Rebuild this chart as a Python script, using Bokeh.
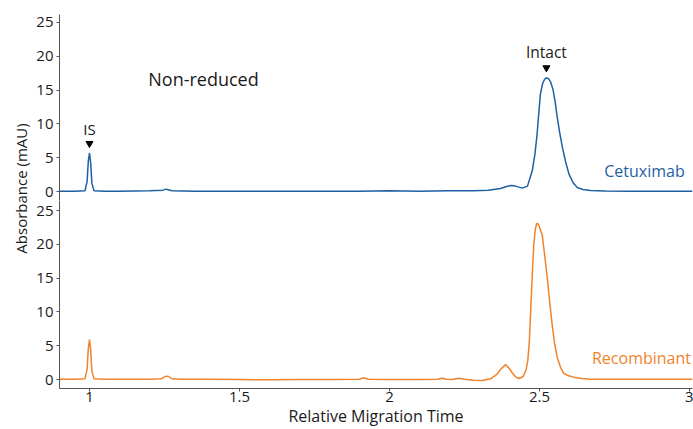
from bokeh.plotting import figure
from bokeh.layouts import row, column
from bokeh.models import Range1d, Label, FixedTicker
from bokeh.core.properties import value
from bokeh.embed import file_html
from bokeh.resources import INLINE
import math

# ---------------- data ----------------
cetux_t = [0.90, 0.95, 0.985, 0.992, 0.996, 1.000, 1.004, 1.008, 1.015, 1.05, 1.10, 1.20,
           1.245, 1.255, 1.262, 1.275, 1.35, 1.5, 1.7, 1.9, 2.0, 2.1, 2.2, 2.28, 2.33, 2.37,
           2.39, 2.405, 2.42, 2.443, 2.46, 2.476, 2.485, 2.492, 2.498, 2.503, 2.51, 2.517,
           2.523, 2.530, 2.537, 2.545, 2.552, 2.559, 2.567, 2.576, 2.587, 2.598, 2.612, 2.626,
           2.645, 2.67, 2.72, 2.8, 2.9, 3.01]
cetux_v = [0.05, 0.05, 0.1, 1.5, 4.5, 5.7, 4.2, 1.2, 0.1, 0.05, 0.05, 0.1,
           0.2, 0.35, 0.25, 0.1, 0.05, 0.05, 0.05, 0.05, 0.1, 0.05, 0.1, 0.1, 0.2, 0.45,
           0.75, 0.9, 0.8, 0.5, 0.8, 3.1, 5.6, 8.5, 11.8, 14.4, 15.9, 16.6,
           16.8, 16.7, 16.2, 15.1, 13.3, 11.0, 8.8, 6.6, 4.4, 2.6, 1.3, 0.6,
           0.3, 0.15, 0.08, 0.05, 0.05, 0.05]

recomb_t = [0.90, 0.95, 0.985, 0.992, 0.996, 1.000, 1.004, 1.008, 1.015, 1.05, 1.10, 1.20,
            1.24, 1.248, 1.256, 1.264, 1.272, 1.30, 1.4, 1.5, 1.6, 1.7, 1.8, 1.9, 1.913, 1.93,
            2.0, 2.1, 2.16, 2.175, 2.19, 2.21, 2.23, 2.25, 2.28, 2.31, 2.337, 2.359, 2.372,
            2.387, 2.398, 2.409, 2.42, 2.431, 2.445, 2.455, 2.461, 2.466, 2.472, 2.477, 2.481,
            2.486, 2.490, 2.494, 2.499, 2.504, 2.509, 2.517, 2.526, 2.534, 2.542, 2.550, 2.559,
            2.570, 2.581, 2.597, 2.614, 2.64, 2.67, 2.75, 2.85, 3.01]
recomb_v = [0.05, 0.05, 0.1, 1.5, 4.6, 5.9, 4.3, 1.2, 0.1, 0.05, 0.05, 0.05,
            0.1, 0.35, 0.5, 0.45, 0.15, 0.05, 0.05, 0.0, -0.05, 0.0, 0.0, 0.05, 0.25, 0.05,
            0.0, 0.0, 0.05, 0.2, 0.05, 0.0, 0.2, 0.05, -0.1, -0.15, 0.1, 0.8, 1.6,
            2.2, 1.7, 1.0, 0.4, 0.15, 0.4, 1.4, 2.8, 5.5, 11.6, 16.5, 20.0,
            22.2, 23.0, 23.1, 22.7, 22.0, 21.4, 18.5, 15.0, 11.5, 8.2, 5.4, 3.3,
            1.8, 0.9, 0.55, 0.35, 0.15, 0.05, 0.05, 0.05, 0.05]

y_ticks = [0, 5, 10, 15, 20, 25]
x_ticks = [1, 1.5, 2, 2.5, 3]
x_tick_labels = {1: "1", 1.5: "1.5", 2: "2", 2.5: "2.5", 3: "3"}

# annotation positions (data units)
is_pos = (1.0, 9.3, 7.1)
intact_pos = (2.523, 20.7, 18.3)
title_pos = (1.38, 16.7)
cetux_label_pos = (2.85, 3.0)
recomb_label_pos = (2.84, 3.25)

BLUE = "#1f5fa3"
ORANGE = "#f0832a"
FONT = "Open Sans"
AXIS_COLOR = "#555555"
TEXT_COLOR = "#1a1a1a"

x_range = Range1d(0.9, 3.01)


def style_y(p):
    ax = p.yaxis[0]
    ax.ticker = FixedTicker(ticks=y_ticks)
    ax.minor_tick_line_color = None
    ax.major_tick_out = 3
    ax.major_tick_in = 0
    ax.axis_line_color = AXIS_COLOR
    ax.major_tick_line_color = AXIS_COLOR
    ax.major_label_text_font = FONT
    ax.major_label_text_font_size = "15px"
    ax.major_label_text_color = TEXT_COLOR
    ax.major_label_standoff = 3


# ---------------- top panel ----------------
top = figure(width=663, height=200, x_range=x_range, y_range=Range1d(-1.33, 26.18),
             output_backend="svg", toolbar_location=None, x_axis_location=None,
             min_border_left=29, min_border_right=1, min_border_top=14, min_border_bottom=0)
top.outline_line_color = None
top.grid.grid_line_color = None
style_y(top)
top.line(cetux_t, cetux_v, line_color=BLUE, line_width=1.5)

top.text(x=[is_pos[0]], y=[is_pos[1]], text=["IS"], text_align="center", text_baseline="middle",
         text_font=value(FONT), text_font_size="15px", text_color=TEXT_COLOR)
top.scatter(x=[is_pos[0]], y=[is_pos[2]], marker="inverted_triangle", size=7, color="black")
top.text(x=[intact_pos[0]], y=[intact_pos[1]], text=["Intact"], text_align="center",
         text_baseline="middle", text_font=value(FONT), text_font_size="15.5px", text_color=TEXT_COLOR)
top.scatter(x=[intact_pos[0]], y=[intact_pos[2]], marker="inverted_triangle", size=7, color="black")
top.text(x=[title_pos[0]], y=[title_pos[1]], text=["Non-reduced"], text_align="center",
         text_baseline="middle", text_font=value(FONT), text_font_size="18px", text_color=TEXT_COLOR)
top.text(x=[cetux_label_pos[0]], y=[cetux_label_pos[1]], text=["Cetuximab"], text_align="center",
         text_baseline="middle", text_font=value(FONT), text_font_size="16px", text_color=BLUE)

# ---------------- bottom panel ----------------
bot = figure(width=663, height=229, x_range=x_range, y_range=Range1d(-1.33, 26.48),
             output_backend="svg", toolbar_location=None,
             min_border_left=29, min_border_right=1, min_border_top=0, min_border_bottom=40)
bot.outline_line_color = None
bot.grid.grid_line_color = None
style_y(bot)
xa = bot.xaxis[0]
xa.ticker = FixedTicker(ticks=x_ticks)
xa.major_label_overrides = x_tick_labels
xa.minor_tick_line_color = None
xa.major_tick_out = 3
xa.major_tick_in = 0
xa.axis_line_color = AXIS_COLOR
xa.major_tick_line_color = AXIS_COLOR
xa.major_label_text_font = FONT
xa.major_label_text_font_size = "15px"
xa.major_label_text_color = TEXT_COLOR
xa.major_label_text_line_height = 1.0
xa.major_label_standoff = 0
xa.axis_label = "Relative Migration Time"
xa.axis_label_text_font = FONT
xa.axis_label_text_font_size = "16px"
xa.axis_label_text_font_style = "normal"
xa.axis_label_text_color = TEXT_COLOR
xa.axis_label_text_line_height = 1.0
xa.axis_label_standoff = 0

bot.line(recomb_t, recomb_v, line_color=ORANGE, line_width=1.5)
bot.text(x=[recomb_label_pos[0]], y=[recomb_label_pos[1]], text=["Recombinant"], text_align="center",
         text_baseline="middle", text_font=value(FONT), text_font_size="16px", text_color=ORANGE)

# ---------------- shared y-axis title ----------------
lab = figure(width=30, height=429, output_backend="svg", toolbar_location=None,
             x_axis_location=None, y_axis_location=None,
             min_border_left=0, min_border_right=0, min_border_top=0, min_border_bottom=0,
             x_range=Range1d(0, 1), y_range=Range1d(0, 1))
lab.outline_line_color = None
lab.grid.grid_line_color = None
lab.add_layout(Label(x=20, y=241, x_units="screen", y_units="screen", text="Absorbance (mAU)",
                     angle=math.pi / 2, text_align="center", text_baseline="middle",
                     text_font=FONT, text_font_size="15px", text_color=TEXT_COLOR))

layout = row(lab, column(top, bot))

open("out.html", "w").write(file_html(layout, INLINE))
